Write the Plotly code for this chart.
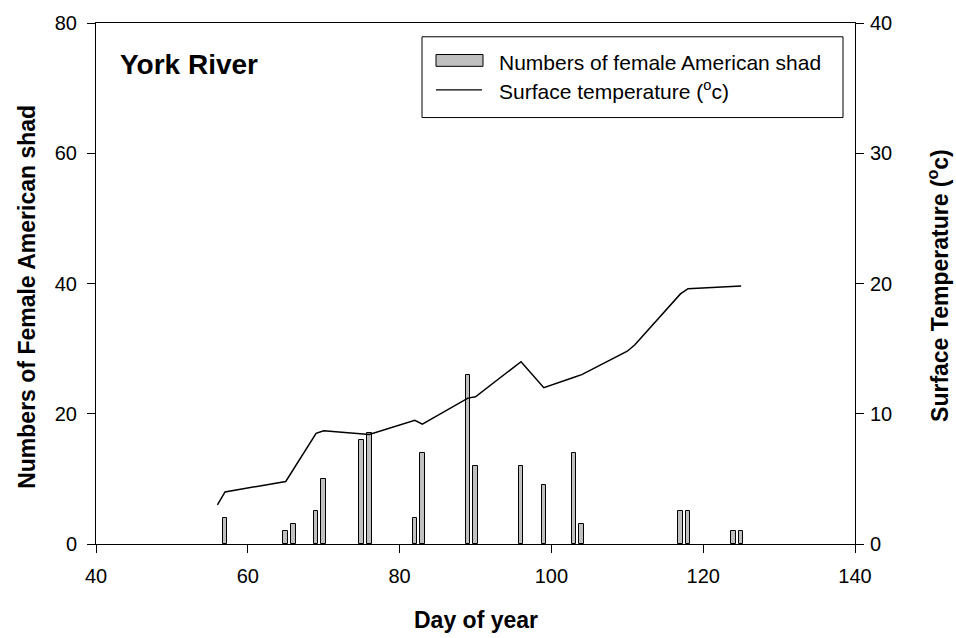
import plotly.graph_objects as go

# Data
bar_days = [57, 65, 66, 69, 70, 75, 76, 82, 83, 89, 90, 96, 99, 103, 104, 117, 118, 124, 125]
shad_counts = [4, 2, 3, 5, 10, 16, 17, 4, 14, 26, 12, 12, 9, 14, 3, 5, 5, 2, 2]

temp_days = [56, 57, 65, 69, 70, 76, 82, 83, 89, 90, 96, 99, 103, 104, 110, 111, 117, 118, 125]
surface_temp = [3.0, 4.0, 4.8, 8.5, 8.7, 8.4, 9.5, 9.2, 11.2, 11.3, 14.0, 12.0, 12.8, 13.0, 14.8, 15.3, 19.2, 19.6, 19.8]

x_ticks = [40, 60, 80, 100, 120, 140]
y_ticks = [0, 20, 40, 60, 80]
y2_ticks = [0, 10, 20, 30, 40]

FONT = "Liberation Sans, Arial, sans-serif"
W, H = 956, 638
L, R, T, B = 96, 101, 15, 94
pw, ph = W - L - R, H - T - B


def px(x):
    return (x - L) / pw


def py(y):
    return (H - B - y) / ph


fig = go.Figure()
fig.add_trace(go.Bar(
    x=bar_days, y=shad_counts, width=0.6,
    marker=dict(color="#c0c0c0", line=dict(color="black", width=1)),
    name="Numbers of female American shad", showlegend=False,
))
fig.add_trace(go.Scatter(
    x=temp_days, y=surface_temp, mode="lines", yaxis="y2",
    line=dict(color="black", width=1.5),
    name="Surface temperature (°c)", showlegend=False,
))

axis_common = dict(
    showgrid=False, zeroline=False, showline=True, linecolor="black", linewidth=1,
    ticks="outside", ticklen=8, tickcolor="black", tickwidth=1,
    tickfont=dict(family=FONT, size=20, color="black"),
)

fig.update_layout(
    width=W, height=H,
    margin=dict(l=L, r=R, t=T, b=B),
    plot_bgcolor="white", paper_bgcolor="white",
    bargap=0,
    xaxis=dict(range=[40, 140], tickvals=x_ticks, mirror=True, ticklabelstandoff=6, **axis_common),
    yaxis=dict(range=[0, 80], tickvals=y_ticks, ticklabelstandoff=6, **axis_common),
    yaxis2=dict(range=[0, 40], tickvals=y2_ticks, overlaying="y", side="right", ticklabelstandoff=2, **axis_common),
)

annotations = [
    dict(text="<b>York River</b>", x=px(118), y=py(57), xanchor="left", yanchor="middle",
         font=dict(family=FONT, size=28, color="black")),
    dict(text="<b>Day of year</b>", x=0.5, y=py(621), xanchor="center", yanchor="middle",
         font=dict(family=FONT, size=23, color="black")),
    dict(text="<b>Numbers of Female American shad</b>", x=px(27), y=py(293), textangle=-90,
         xanchor="center", yanchor="middle", font=dict(family=FONT, size=23, color="black")),
    dict(text="<b>Surface Temperature (<sup>o</sup>c)</b>", x=px(938), y=py(282), textangle=-90,
         xanchor="center", yanchor="middle", font=dict(family=FONT, size=23, color="black")),
    dict(text="Numbers of female American shad", x=px(497), y=py(55), xanchor="left", yanchor="middle",
         font=dict(family=FONT, size=21, color="black")),
    dict(text="Surface temperature (<sup>o</sup>c)", x=px(497), y=py(83), xanchor="left", yanchor="middle",
         font=dict(family=FONT, size=21, color="black")),
]
for a in annotations:
    a.update(xref="paper", yref="paper", showarrow=False)
fig.update_layout(annotations=annotations)

shapes = [
    dict(type="rect", x0=px(422), x1=px(843), y0=py(111), y1=py(29),
         line=dict(color="black", width=1), fillcolor="white", layer="below"),
    dict(type="rect", x0=px(436), x1=px(483), y0=py(59), y1=py(47),
         line=dict(color="black", width=1), fillcolor="#c0c0c0"),
    dict(type="line", x0=px(436), x1=px(482), y0=py(83), y1=py(83),
         line=dict(color="black", width=1.2)),
]
for s in shapes:
    s.update(xref="paper", yref="paper")
fig.update_layout(shapes=shapes)

post = (
    "document.documentElement.style.margin='0';"
    "document.body.style.margin='0';document.body.style.padding='0';"
    "var gd=document.getElementById('{plot_id}');"
    "gd.style.position='absolute';gd.style.left='0px';gd.style.top='0px';"
)
fig.write_html("out.html", post_script=post, config={"displayModeBar": False})
